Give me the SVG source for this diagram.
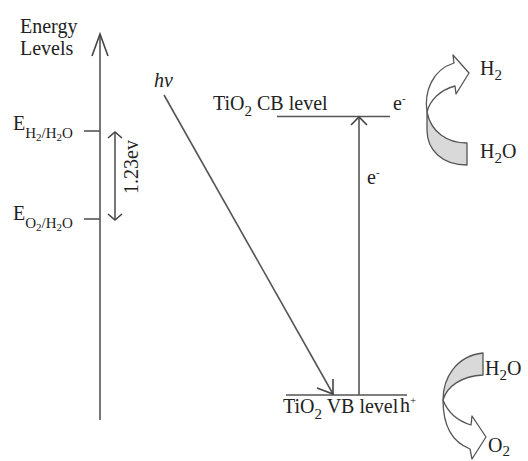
<svg xmlns="http://www.w3.org/2000/svg" width="528" height="461" viewBox="0 0 528 461">
<style>
text{font-family:"Liberation Serif","Times New Roman",serif;font-size:20px;fill:#222}
.sub{font-size:15px}
.sub2{font-size:11px}
.ln{stroke:#555;stroke-width:1.6;fill:none}
.ah{stroke:#444;stroke-width:1.6;fill:none;stroke-linejoin:miter}
.blk{stroke:#555;stroke-width:1.3;stroke-linejoin:round}
</style>
<rect width="528" height="461" fill="#fff"/>
<g id="axis">
<text x="20" y="33">Energy</text>
<text x="20" y="55">Levels</text>
</g>
<g id="e-h2">
<text x="13" y="130">E<tspan class="sub" dy="8">H</tspan><tspan class="sub2" dy="3">2</tspan><tspan class="sub" dy="-3">/H</tspan><tspan class="sub2" dy="3">2</tspan><tspan class="sub" dy="-3">O</tspan></text>
</g>
<g id="e-o2">
<text x="13" y="220">E<tspan class="sub" dy="8">O</tspan><tspan class="sub2" dy="3">2</tspan><tspan class="sub" dy="-3">/H</tspan><tspan class="sub2" dy="3">2</tspan><tspan class="sub" dy="-3">O</tspan></text>
</g>
<g id="gap">
<text transform="translate(138,167) rotate(-90)" text-anchor="middle">1.23ev</text>
</g>
<g id="hv">
<text x="154" y="87" font-style="italic">hv</text>
</g>
<g id="cb">
<text x="213" y="110">TiO<tspan class="sub" dy="6">2</tspan><tspan dy="-6"> CB level</tspan></text>
<line class="ln" x1="277" y1="116.5" x2="390" y2="116.5"/>
<text x="393" y="110">e<tspan class="sub2" dy="-8">-</tspan></text>
</g>
<g id="vb">
<line class="ln" x1="286" y1="395" x2="407" y2="395"/>
<text x="283" y="413" font-size="19">TiO<tspan class="sub" dy="6">2</tspan><tspan dy="-6"> VB level</tspan></text>
<text x="400" y="412">h<tspan class="sub2" dy="-8">+</tspan></text>
</g>
<g id="excite-label">
<text x="367" y="184">e<tspan class="sub2" dy="-8">-</tspan></text>
</g>
<g id="h2-arrow">
<path class="blk" fill="#fff" d="M427,112 C424,92 432,70 454,63 L453,55 L469,73 L456,94 L455,86 C440,90 430,100 427,112 Z"/>
<path class="blk" fill="#d9d9d9" d="M427,112 C431,132 447,143 467,143 L467,165 C442,165 427,150 427,130 Z"/>
<text x="480" y="75">H<tspan class="sub" dy="5">2</tspan></text>
<text x="480" y="158">H<tspan class="sub" dy="5">2</tspan><tspan dy="-5">O</tspan></text>
</g>
<g id="o2-arrow">
<path class="blk" fill="#d9d9d9" d="M443,400 C443,378 456,356 483,353 L483,375 C462,376 447,386 443,400 Z"/>
<path class="blk" fill="#fff" d="M443,400 C448,413 458,421 471,425 L472,416 L486,437 L472,459 L470,449 C452,442 443,425 443,400 Z"/>
<text x="485" y="375">H<tspan class="sub" dy="5">2</tspan><tspan dy="-5">O</tspan></text>
<text x="488" y="452">O<tspan class="sub" dy="4">2</tspan></text>
</g>
<g id="connectors">
<line class="ln" x1="100" y1="34" x2="100" y2="420"/>
<polyline class="ah" points="92,56 100,34 108,56"/>
<line class="ln" x1="84" y1="131" x2="100" y2="131"/>
<line class="ln" x1="84" y1="219" x2="100" y2="219"/>
<line class="ln" x1="115" y1="132" x2="115" y2="220"/>
<polyline class="ah" points="108,138 115,132 122,138"/>
<polyline class="ah" points="108,214 115,220 122,214"/>
<line class="ln" x1="164" y1="95" x2="333" y2="394"/>
<polyline class="ah" points="317,388 333,394 333,379"/>
<line class="ln" x1="359" y1="395" x2="359" y2="117"/>
<polyline class="ah" points="351,125 359,117 367,125"/>
</g>
</svg>
